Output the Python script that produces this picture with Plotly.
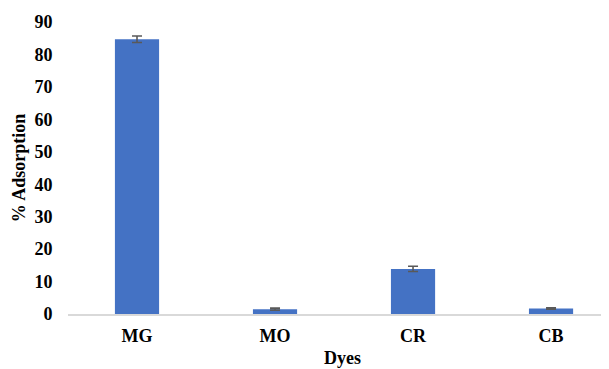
import plotly.graph_objects as go

dyes = ["MG", "MO", "CR", "CB"]
adsorption = [84.7, 1.5, 13.9, 1.7]
errors = [1.0, 0.3, 0.8, 0.2]
y_ticks = [0, 10, 20, 30, 40, 50, 60, 70, 80, 90]

font_family = "Liberation Serif, Times New Roman, serif"

fig = go.Figure(
    go.Bar(
        x=dyes,
        y=adsorption,
        width=0.32,
        marker=dict(color="#4472C4", line=dict(width=0)),
        error_y=dict(type="data", array=errors, visible=True,
                     color="#595959", thickness=1.6, width=5),
    )
)

# page body has an 8px margin, so the figure is sized/offset to compensate
fig.update_layout(
    width=601, height=361,
    margin=dict(l=60, r=0, t=14, b=55, autoexpand=False),
    paper_bgcolor="white", plot_bgcolor="white",
    showlegend=False,
    font=dict(family=font_family, size=18, color="black"),
    xaxis=dict(
        range=[-0.5, 3.42], automargin=False,
        showline=True, linecolor="#d9d9d9", linewidth=1.5,
        showgrid=False, ticks="outside", ticklen=5, tickcolor="rgba(0,0,0,0)",
        tickfont=dict(family=font_family, size=18, color="black", weight="bold"),
    ),
    yaxis=dict(
        range=[0, 90], tickvals=y_ticks, automargin=False,
        showline=False, showgrid=False, zeroline=False,
        ticks="outside", ticklen=11, tickcolor="rgba(0,0,0,0)",
        tickfont=dict(family=font_family, size=18, color="black", weight="bold"),
        title=dict(text="<b>% Adsorption</b>", font=dict(family=font_family, size=18), standoff=4),
    ),
    annotations=[dict(
        text="<b>Dyes</b>", xref="paper", yref="paper", x=0.5, y=0,
        xanchor="center", yanchor="middle", xshift=4, yshift=-44,
        showarrow=False, font=dict(family=font_family, size=18, color="black"),
    )],
)

fig.write_html("out.html")
